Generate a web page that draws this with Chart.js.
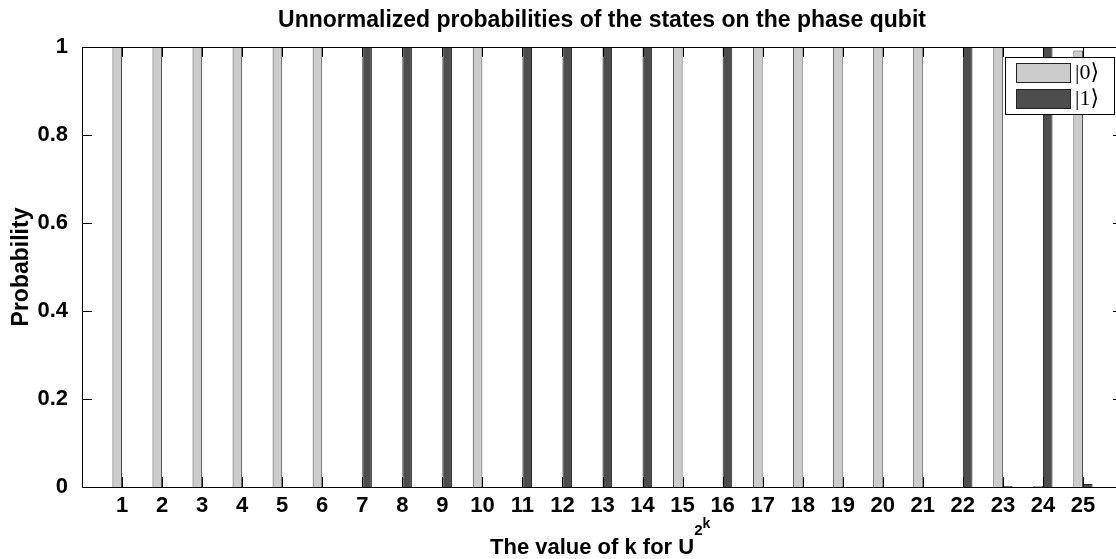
<!DOCTYPE html>
<html>
<head>
<meta charset="utf-8">
<script src="https://cdn.jsdelivr.net/npm/chart.js@4/dist/chart.umd.min.js"></script>
<style>
  html, body { margin: 0; padding: 0; background: #fff; overflow: hidden; }
  #wrap { width: 1140px; height: 559px; position: relative; }
</style>
</head>
<body>
<div id="wrap"><canvas id="g-prob"></canvas></div>
<script>
// values of k (categories)
const ks = [1, 2, 3, 4, 5, 6, 7, 8, 9, 10, 11, 12, 13, 14, 15, 16, 17, 18, 19, 20, 21, 22, 23, 24, 25];
// probability of |0>
const p0 = [1, 1, 1, 1, 1, 1, 0, 0, 0, 1, 0, 0, 0, 0, 1, 0, 1, 1, 1, 1, 1, 0, 1, 0.002, 0.992];
// probability of |1>
const p1 = [0, 0, 0, 0, 0, 0, 1, 1, 1, 0, 1, 1, 1, 1, 0, 1, 0, 0, 0, 0, 0, 1, 0.002, 1, 0.007];
const yTicks = [0, 0.2, 0.4, 0.6, 0.8, 1];
const seriesNames = ['|0\u27E9', '|1\u27E9'];

const lightGray = '#cccccc';
const darkGray = '#4d4d4d';
const FONT = '"Liberation Sans", Arial, sans-serif';

const decor = {
    id: 'decor',
    afterDatasetsDraw(chart) {
        const { ctx, chartArea: a, scales } = chart;
        ctx.save();
        // box
        ctx.strokeStyle = '#000';
        ctx.lineWidth = 1;
        ctx.strokeRect(a.left + 0.5, a.top + 0.5, a.right - a.left, a.bottom - a.top);
        // ticks inward
        ctx.beginPath();
        ks.forEach(k => {
            const x = Math.round(scales.x.getPixelForValue(k)) + 0.5;
            ctx.moveTo(x, a.bottom); ctx.lineTo(x, a.bottom - 10);
            ctx.moveTo(x, a.top); ctx.lineTo(x, a.top + 10);
        });
        yTicks.forEach(v => {
            const y = Math.round(scales.y.getPixelForValue(v)) + 0.5;
            ctx.moveTo(a.left, y); ctx.lineTo(a.left + 10, y);
            ctx.moveTo(a.right, y); ctx.lineTo(a.right - 10, y);
        });
        ctx.stroke();
        ctx.restore();
    },
    afterDraw(chart) {
        const { ctx } = chart;
        ctx.save();
        ctx.fillStyle = '#000';
        ctx.textBaseline = 'alphabetic';
        // title
        ctx.font = 'bold 23px ' + FONT;
        ctx.textAlign = 'center';
        ctx.fillText('Unnormalized probabilities of the states on the phase qubit', 602, 27);

        // y label
        ctx.save();
        ctx.translate(28, 267);
        ctx.rotate(-Math.PI / 2);
        ctx.fillText('Probability', 0, 0);
        ctx.restore();

        // x label with superscripts
        ctx.textAlign = 'left';
        const main = 'The value of k for U';
        ctx.font = 'bold 22px ' + FONT;
        const w1 = ctx.measureText(main).width;
        ctx.font = 'bold 15px ' + FONT;
        const w2 = ctx.measureText('2').width;
        const x0 = 490;
        ctx.font = 'bold 22px ' + FONT;
        ctx.fillText(main, x0, 554);
        ctx.font = 'bold 15px ' + FONT;
        ctx.fillText('2', x0 + w1, 535);
        ctx.font = 'bold 14px ' + FONT;
        ctx.fillText('k', x0 + w1 + w2, 528);

        // legend
        const lx = 1005, ly = 57, lw = 109, lh = 57;
        ctx.fillStyle = '#fff';
        ctx.fillRect(lx, ly, lw, lh);
        ctx.strokeStyle = '#000';
        ctx.lineWidth = 1;
        ctx.strokeRect(lx + 0.5, ly + 0.5, lw, lh);
        const fills = [lightGray, darkGray];
        seriesNames.forEach((name, i) => {
            const sy = ly + 6 + i * 26;
            ctx.fillStyle = fills[i];
            ctx.fillRect(1016, sy, 54, 19);
            ctx.strokeStyle = '#222';
            ctx.strokeRect(1016.5, sy + 0.5, 54, 19);
            ctx.fillStyle = '#000';
            ctx.font = '22px "Liberation Serif", "DejaVu Serif", serif';
            ctx.textBaseline = 'middle';
            ctx.fillText(name, 1075, sy + 10);
        });
        ctx.restore();
    }
};

const ctx = document.getElementById('g-prob').getContext('2d');
const config = {
    type: 'bar',
    data: {
        datasets: [
            {
                label: seriesNames[0],
                data: ks.map((k, i) => ({ x: k, y: p0[i] })),
                backgroundColor: lightGray,
                borderColor: '#444',
                borderWidth: 1,
                categoryPercentage: 0.48,
                barPercentage: 1
            },
            {
                label: seriesNames[1],
                data: ks.map((k, i) => ({ x: k, y: p1[i] })),
                backgroundColor: darkGray,
                borderColor: '#222',
                borderWidth: 1,
                categoryPercentage: 0.48,
                barPercentage: 1
            }
        ]
    },
    options: {
        responsive: true,
        maintainAspectRatio: false,
        animation: false,
        layout: { padding: { top: 47, right: 17, left: 0, bottom: 0 } },
        plugins: {
            legend: { display: false },
            tooltip: { enabled: false }
        },
        scales: {
            x: {
                type: 'linear',
                offset: false,
                min: 0,
                max: 26,
                grid: { display: false, drawTicks: false },
                border: { display: false },
                ticks: {
                    stepSize: 1,
                    autoSkip: false,
                    maxRotation: 0,
                    padding: 6,
                    color: '#000',
                    font: { family: FONT, size: 22, weight: 'bold' },
                    callback: v => (v >= 1 && v <= 25) ? String(v) : ''
                },
                afterFit: s => { s.height = 72; }
            },
            y: {
                min: 0,
                max: 1,
                grid: { display: false, drawTicks: false },
                border: { display: false },
                ticks: {
                    stepSize: 0.2,
                    padding: 14,
                    color: '#000',
                    font: { family: FONT, size: 22, weight: 'bold' },
                    callback: v => String(+v.toFixed(1))
                },
                afterFit: s => { s.width = 82; }
            }
        }
    },
    plugins: [decor]
};
new Chart(ctx, config);
</script>
</body>
</html>
